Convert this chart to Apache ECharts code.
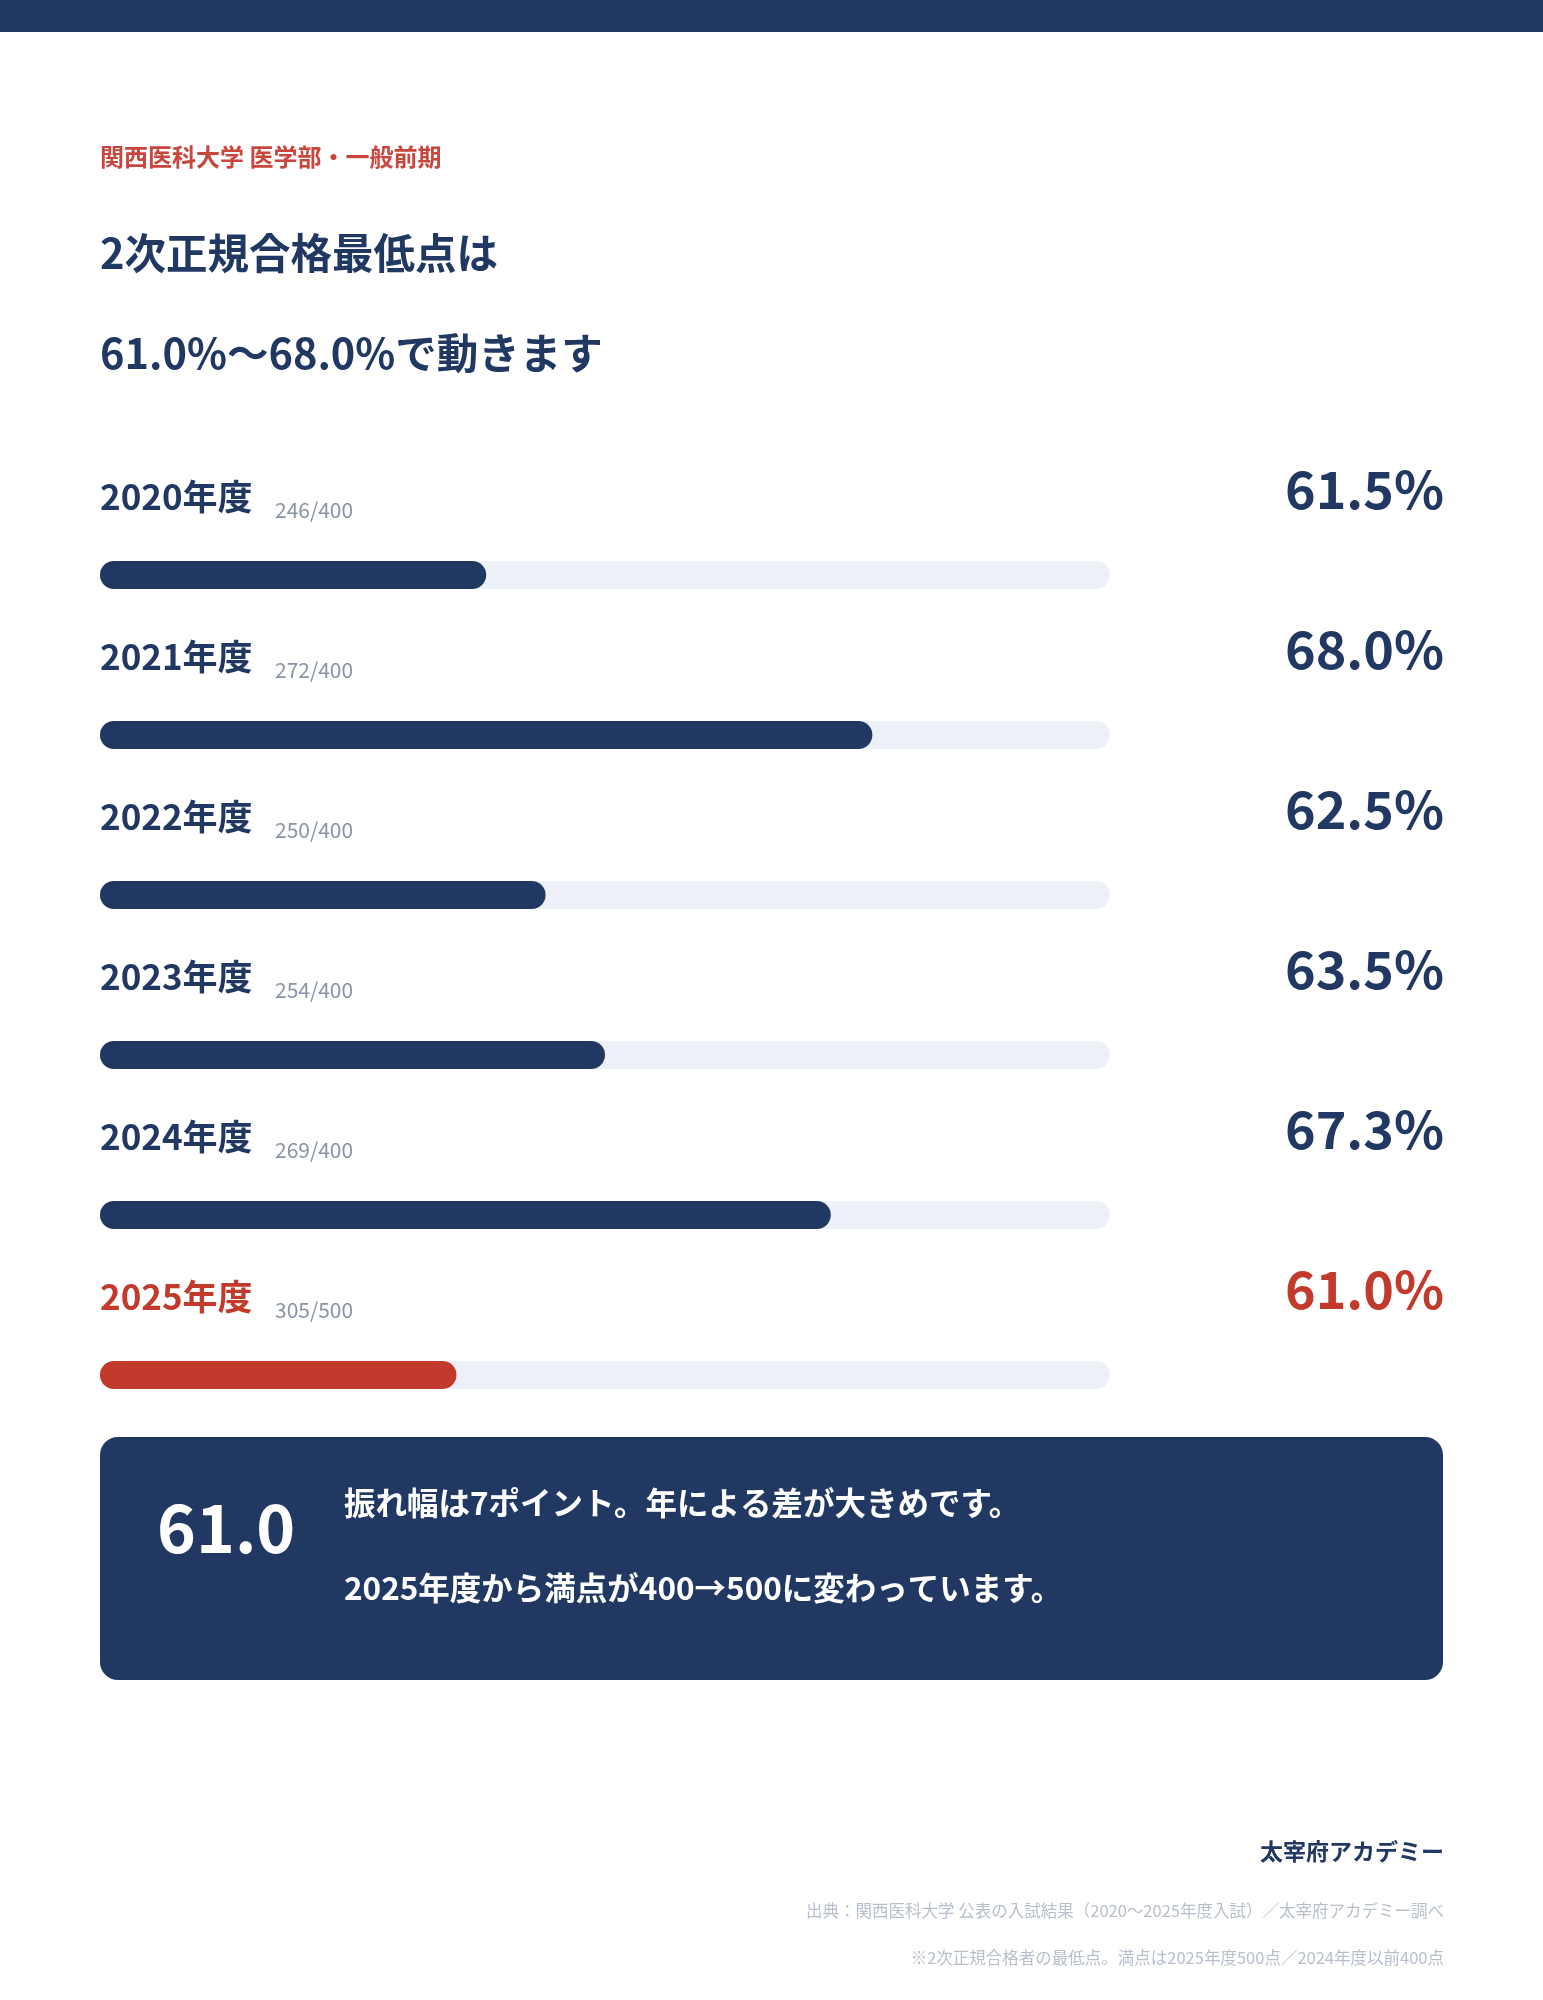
<!DOCTYPE html>
<html>
<head>
<meta charset="utf-8">
<script src="https://cdn.jsdelivr.net/npm/echarts@6/dist/echarts.min.js"></script>
<style>
  html, body { margin: 0; padding: 0; background: #fff; }
  #chart { width: 1543px; height: 2000px; }
</style>
</head>
<body>
<div id="chart"></div>
<script>
// データ
const years = ['2020年度', '2021年度', '2022年度', '2023年度', '2024年度', '2025年度'];
const scores = ['246/400', '272/400', '250/400', '254/400', '269/400', '305/500'];
const rates = [61.5, 68.0, 62.5, 63.5, 67.3, 61.0];
const highlightYear = '2025年度';
const axisMin = 55;
const axisMax = 72;

const NAVY = '#213862';
const RED = '#c23a2c';
const TRACK = '#edf0f7';
const FONT = "'Noto Sans CJK JP', 'Noto Sans', sans-serif";

const chart = echarts.init(document.getElementById('chart'));

const colorOf = (i) => (years[i] === highlightYear ? RED : NAVY);

const option = {
  animation: false,
  textStyle: { fontFamily: FONT },
  grid: { left: 100, width: 1010, top: 495, height: 960 },
  xAxis: { type: 'value', min: axisMin, max: axisMax, show: false },
  yAxis: { type: 'category', data: years, inverse: true, show: false },
  graphic: [
    // 上部の帯
    { type: 'rect', left: 0, top: 0, shape: { width: 1543, height: 32 }, style: { fill: NAVY } },
    { type: 'text', x: 100, y: 157, style: { text: '関西医科大学 医学部・一般前期', font: `bold 24px ${FONT}`, fill: '#c9463d', textVerticalAlign: 'middle' } },
    { type: 'text', x: 100, y: 253, style: { text: '2次正規合格最低点は', font: `bold 41.5px ${FONT}`, fill: NAVY, textVerticalAlign: 'middle' } },
    { type: 'text', x: 100, y: 353, style: { text: '61.0%～68.0%で動きます', font: `bold 41.5px ${FONT}`, fill: NAVY, textVerticalAlign: 'middle' } },
    // まとめボックス
    { type: 'rect', shape: { x: 100, y: 1437, width: 1343, height: 243, r: 18 }, style: { fill: NAVY } },
    { type: 'text', x: 157, y: 1528, style: { text: Math.min(...rates).toFixed(1), font: `bold 66px ${FONT}`, fill: '#fff', textVerticalAlign: 'middle' } },
    { type: 'text', x: 344, y: 1503, style: { text: '振れ幅は7ポイント。年による差が大きめです。', font: `bold 31.5px ${FONT}`, fill: '#fff', textVerticalAlign: 'middle' } },
    { type: 'text', x: 344, y: 1588, style: { text: '2025年度から満点が400→500に変わっています。', font: `bold 31.5px ${FONT}`, fill: '#fff', textVerticalAlign: 'middle' } },
    // フッター
    { type: 'text', x: 1444, y: 1851, style: { text: '太宰府アカデミー', font: `bold 23px ${FONT}`, fill: NAVY, textAlign: 'right', textVerticalAlign: 'middle' } },
    { type: 'text', x: 1444, y: 1911, style: { text: '出典：関西医科大学 公表の入試結果（2020～2025年度入試）／太宰府アカデミー調べ', font: `16.5px ${FONT}`, fill: '#b8bfcc', textAlign: 'right', textVerticalAlign: 'middle' } },
    { type: 'text', x: 1444, y: 1958, style: { text: '※2次正規合格者の最低点。満点は2025年度500点／2024年度以前400点', font: `16.5px ${FONT}`, fill: '#b8bfcc', textAlign: 'right', textVerticalAlign: 'middle' } }
  ],
  series: [
    {
      type: 'bar',
      barWidth: 28,
      showBackground: true,
      backgroundStyle: { color: TRACK, borderRadius: 14 },
      itemStyle: { borderRadius: 14 },
      data: rates.map((v, i) => ({ value: v, itemStyle: { color: colorOf(i) } }))
    },
    {
      // 年度・得点・割合のラベル
      type: 'custom',
      data: rates.map((v, i) => [v, i]),
      encode: { x: 0, y: 1 },
      renderItem: (params, api) => {
        const i = api.value(1);
        const left = api.coord([axisMin, i]);
        const right = api.coord([axisMax, i]);
        const cy = left[1];
        const c = colorOf(i);
        return {
          type: 'group',
          children: [
            { type: 'text', x: left[0], y: cy - 78, style: { text: years[i], font: `bold 35px ${FONT}`, fill: c, textVerticalAlign: 'middle' } },
            { type: 'text', x: left[0] + 175, y: cy - 65, style: { text: scores[i], font: `21px ${FONT}`, fill: '#8a93a6', textVerticalAlign: 'middle' } },
            { type: 'text', x: right[0] + 334, y: cy - 86, style: { text: rates[i].toFixed(1) + '%', font: `bold 52px ${FONT}`, fill: c, textAlign: 'right', textVerticalAlign: 'middle' } }
          ]
        };
      }
    }
  ]
};

chart.setOption(option);
</script>
</body>
</html>
